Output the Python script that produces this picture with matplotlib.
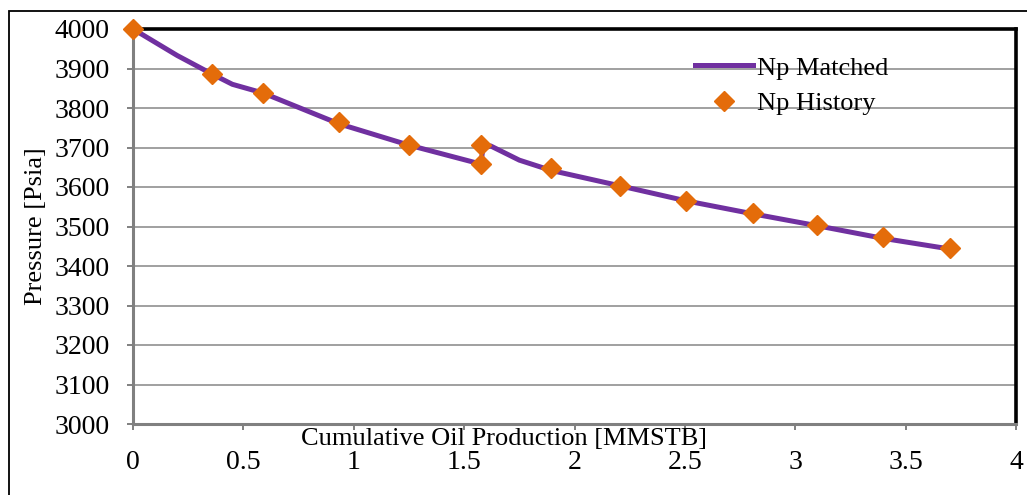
import matplotlib.pyplot as plt
from matplotlib.patches import Rectangle

plt.rcParams['font.family'] = ['Liberation Serif', 'DejaVu Serif']

# history points (MMSTB, psia)
hist_np = [0.0, 0.358, 0.589, 0.933, 1.250, 1.576, 1.576, 1.894, 2.206, 2.505, 2.809, 3.099, 3.398, 3.701]
hist_p = [4000, 3886, 3838, 3765, 3706, 3658, 3706, 3648, 3603, 3565, 3534, 3504, 3473, 3446]

# matched curve
match_np = [0.0, 0.2, 0.358, 0.45, 0.589, 0.933, 1.250, 1.576, 1.585, 1.62, 1.75, 1.894,
            2.206, 2.505, 2.809, 3.099, 3.398, 3.701]
match_p = [4000, 3933, 3886, 3860, 3838, 3760, 3706, 3658, 3698, 3704, 3668, 3642,
           3603, 3565, 3532, 3502, 3470, 3443]

fig = plt.figure(figsize=(10.27, 4.95), dpi=100)
ax = fig.add_axes([133/1027, 1-424/495, (1016-133)/1027, (424-29)/495])

# outer chart border
fig.patches.append(Rectangle((9/1027, -0.2), 1.2, 1-11/495+0.2, transform=fig.transFigure,
                             fill=False, edgecolor='black', linewidth=1.3))

ax.plot(match_np, match_p, color='#7030A0', linewidth=3.6, label='Np Matched', zorder=3)
ax.plot(hist_np, hist_p, linestyle='none', marker='D', markersize=10.5, color='#E46C0A',
        label='Np History', zorder=4, clip_on=False)

ax.set_xlim(0, 4)
ax.set_ylim(3000, 4000)
ax.set_xticks([0, 0.5, 1, 1.5, 2, 2.5, 3, 3.5, 4])
ax.set_xticklabels(['0', '0.5', '1', '1.5', '2', '2.5', '3', '3.5', '4'])
ax.set_yticks(range(3000, 4001, 100))
ax.grid(axis='y', color='#A0A0A0', linewidth=1.4)
ax.set_axisbelow(True)

for s in ['top', 'right']:
    ax.spines[s].set_color('black')
    ax.spines[s].set_linewidth(2.6)
for s in ['left', 'bottom']:
    ax.spines[s].set_color('#808080')
    ax.spines[s].set_linewidth(2.2)

ax.tick_params(axis='both', colors='#808080', labelcolor='black', labelsize=20,
               length=4, width=1.4, direction='out')
ax.tick_params(axis='x', pad=15)
ax.tick_params(axis='y', pad=13)

ax.set_xlabel('Cumulative Oil Production [MMSTB]', fontsize=19)
ax.xaxis.set_label_coords(0.42, -0.01)
ax.xaxis.label.set_va('top')
ax.set_ylabel('Pressure [Psia]', fontsize=19)
ax.yaxis.set_label_coords(-0.11, 0.5)
ax.yaxis.label.set_va('center')

ax.legend(loc='upper left', bbox_to_anchor=(0.625, 0.958), frameon=False, fontsize=19,
          handlelength=2.2, handletextpad=0.15, labelspacing=0.47, borderaxespad=0)

fig.savefig('out.png', dpi=100)
